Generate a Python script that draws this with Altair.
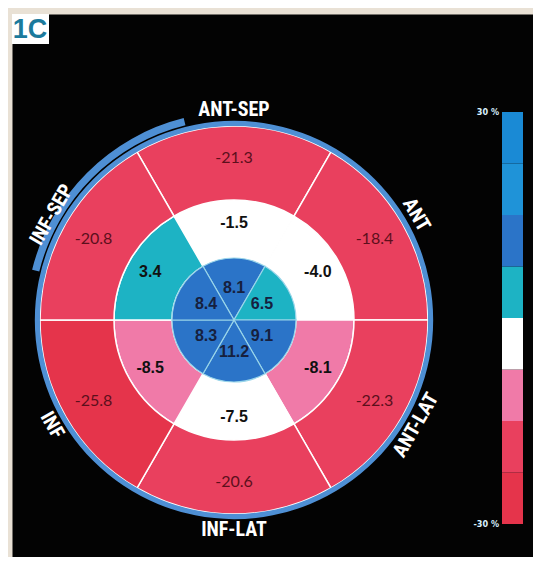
import math
import altair as alt
import pandas as pd

# ---------------- data ----------------
segments = ["ANT-SEP", "ANT", "ANT-LAT", "INF-LAT", "INF", "INF-SEP"]
basal = [-21.3, -18.4, -22.3, -20.6, -25.8, -20.8]
mid = [-1.5, -4.0, -8.1, -7.5, -8.5, 3.4]
apical = [8.1, 6.5, 9.1, 11.2, 8.3, 8.4]
bar_edges = [-30, -22.5, -15, -7.5, 0, 7.5, 15, 22.5, 30]
bar_end_values = [30, -30]
bar_end_labels = ["30 %", "-30 %"]
panel_tag = "1C"

# ---------------- layout / style ----------------
band_colors = ["#e5344b", "#e9405e", "#f07aa8", "#ffffff",
               "#1db3c4", "#2b74c8", "#1f93d8", "#1a8ad5"]
CX, CY = 222, 306               # centre of the bull's-eye inside the view
R_EDGES = [0, 62, 120, 194]      # ring edges in px (apical, mid, basal)
SPAN = 360 / len(segments)

rows = []
for lvl, (ring, vals) in enumerate([("apical", apical), ("mid", mid), ("basal", basal)]):
    for i, (s, v) in enumerate(zip(segments, vals)):
        c = i * SPAN
        rows.append(dict(ring=ring, level=lvl, seg=s, value=v, label=f"{v:.1f}",
                         center=c, start=c - SPAN / 2, end=c + SPAN / 2,
                         inner=lvl, outer=lvl + 1))
seg_df = pd.DataFrame(rows)
label_pos = {"apical": 0.52, "mid": 1.6, "basal": 2.57}
seg_df["labelr"] = seg_df["ring"].map(label_pos)

name_df = pd.DataFrame({"seg": segments, "center": [i * SPAN for i in range(len(segments))]})
name_df["rot"] = name_df["center"].apply(lambda c: c % 360 if (c <= 90 or c >= 270) else (c - 180) % 360)
name_df["r"] = 3.22

theta_scale = alt.Scale(domain=[0, 360], range=[0, 2 * math.pi])
radius_scale = alt.Scale(type="linear", domain=[0, 1, 2, 3], range=R_EDGES, zero=False, nice=False)
color_scale = alt.Scale(type="threshold", domain=bar_edges[1:-1], range=band_colors)

pos = dict(x=alt.value(CX), y=alt.value(CY))


def arc_enc():
    return dict(
        theta=alt.Theta("start:Q", scale=theta_scale, stack=False),
        theta2="end:Q",
        radius=alt.Radius("outer:Q", scale=radius_scale),
        radius2="inner:Q",
    )


base = alt.Chart(seg_df)

arcs_outer = base.transform_filter("datum.level > 0").mark_arc(
    stroke="white", strokeWidth=1.5
).encode(**pos, **arc_enc(), color=alt.Color("value:Q", scale=color_scale, legend=None))

arcs_apical = base.transform_filter("datum.level == 0").mark_arc(
    stroke="#9ad6ea", strokeWidth=1.2
).encode(**pos, **arc_enc(), color=alt.Color("value:Q", scale=color_scale, legend=None))

border_df = pd.DataFrame({"start": [0, 284], "end": [360, 346], "inner": [3.0, 3.09], "outer": [3.07, 3.19]})
border = alt.Chart(border_df).mark_arc(color="#4e8fd4").encode(**pos, **arc_enc())


def num_layer(ring, color, weight, size, font):
    return base.transform_filter(f"datum.ring == '{ring}'").mark_text(
        align="center", baseline="middle", color=color, fontWeight=weight,
        fontSize=size, font=font
    ).encode(
        **pos,
        theta=alt.Theta("center:Q", scale=theta_scale, stack=False),
        radius=alt.Radius("labelr:Q", scale=radius_scale),
        text="label:N",
    )


num_basal = num_layer("basal", "#5c0f1c", "normal", 16, "Lato, Open Sans, sans-serif")
num_mid = num_layer("mid", "#111111", "bold", 16, "Liberation Sans, Arial, sans-serif")
num_apical = num_layer("apical", "#16203e", "bold", 16, "Liberation Sans, Arial, sans-serif")

names = alt.Chart(name_df).mark_text(
    align="center", baseline="middle", color="white", fontWeight="bold", fontSize=20,
    font="Liberation Sans Narrow, Roboto Condensed, DejaVu Sans Condensed, sans-serif"
).encode(
    **pos,
    theta=alt.Theta("center:Q", scale=theta_scale, stack=False),
    radius=alt.Radius("r:Q", scale=radius_scale),
    angle=alt.Angle("rot:Q", scale=None),
    text="seg:N",
)

# colour bar
bar_df = pd.DataFrame({"lo": bar_edges[:-1], "hi": bar_edges[1:]})
bar_df["mid"] = (bar_df["lo"] + bar_df["hi"]) / 2
bar_y = alt.Scale(domain=[-30, 30], range=[510, 98], nice=False, zero=False)
bar = alt.Chart(bar_df).mark_rect().encode(
    x=alt.value(490), x2=alt.value(511),
    y=alt.Y("lo:Q", scale=bar_y, axis=None), y2="hi:Q",
    color=alt.Color("mid:Q", scale=color_scale, legend=None),
)
bar_lbl = alt.Chart(pd.DataFrame({"v": bar_end_values, "t": bar_end_labels})).mark_text(
    align="right", baseline="middle", color="#d9f1ff", fontWeight="bold", fontSize=9,
    font="Liberation Sans Narrow, DejaVu Sans Condensed, sans-serif"
).encode(x=alt.value(487), y=alt.Y("v:Q", scale=bar_y, axis=None), text="t:N")

# panel tag
tag_df = pd.DataFrame({"t": [panel_tag]})
tag_box = alt.Chart(tag_df).mark_rect(color="white").encode(
    x=alt.value(0), x2=alt.value(37), y=alt.value(0), y2=alt.value(30))
tag_txt = alt.Chart(tag_df).mark_text(
    align="center", baseline="middle", color="#1b7a9c", fontWeight="bold", fontSize=27,
    font="Liberation Sans, Arial, sans-serif"
).encode(x=alt.value(18), y=alt.value(16), text="t:N")

chart = alt.layer(
    arcs_outer, arcs_apical, border, num_basal, num_mid, num_apical, names,
    bar, bar_lbl, tag_box, tag_txt
).properties(
    width=521, height=543, background="#e9e1d5",
    padding={"left": 4, "top": 6, "right": 0, "bottom": 0},
    autosize=alt.AutoSizeParams(type="none"),
).configure_view(fill="#030303", stroke="transparent")

chart.save("out.html", embed_options={"renderer": "svg", "actions": False})
